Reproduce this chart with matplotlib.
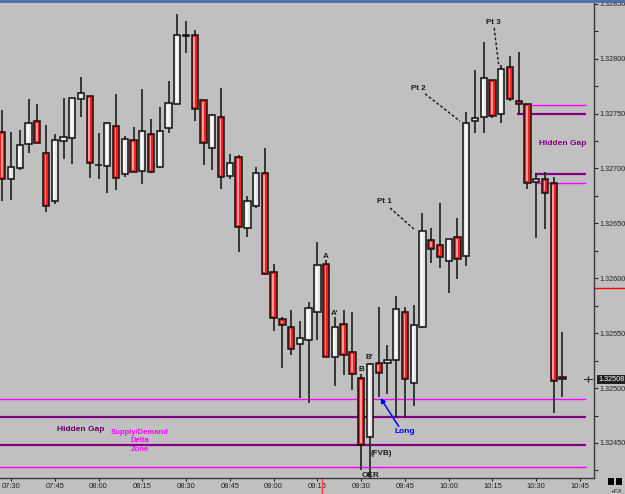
import matplotlib
matplotlib.use("Agg")
import matplotlib.pyplot as plt
from matplotlib.lines import Line2D
from matplotlib.patches import Rectangle
from matplotlib.ticker import MultipleLocator, FixedLocator

plt.rcParams["font.family"] = ["Liberation Sans", "DejaVu Sans"]

# 3-minute EUR bars, first bar is 07:27
times = ["07:30", "07:45", "08:00", "08:15", "08:30", "08:45", "09:00",
         "09:15", "09:30", "09:45", "10:00", "10:15", "10:30", "10:45"]

opens = [1.32733, 1.32690, 1.32700, 1.32722, 1.32743, 1.32714, 1.32670, 1.32725, 1.32728, 1.32763,
         1.32766, 1.32703, 1.32702, 1.32739, 1.32695, 1.32726, 1.32698, 1.32731, 1.32701, 1.32737,
         1.32759, 1.32821, 1.32822, 1.32762, 1.32719, 1.32747, 1.32693, 1.32710, 1.32646, 1.32666,
         1.32696, 1.32606, 1.32563, 1.32556, 1.32540, 1.32544, 1.32569, 1.32613, 1.32528, 1.32558,
         1.32533, 1.32509, 1.32455, 1.32523, 1.32523, 1.32526, 1.32569, 1.32505, 1.32556, 1.32635,
         1.32630, 1.32616, 1.32638, 1.32620, 1.32743, 1.32747, 1.32781, 1.32750, 1.32792, 1.32761,
         1.32759, 1.32688, 1.32690, 1.32687, 1.32510]
highs = [1.32753, 1.32733, 1.32735, 1.32763, 1.32759, 1.32740, 1.32731, 1.32764, 1.32764, 1.32783,
         1.32766, 1.32732, 1.32742, 1.32768, 1.32730, 1.32738, 1.32772, 1.32745, 1.32756, 1.32780,
         1.32841, 1.32834, 1.32826, 1.32762, 1.32750, 1.32773, 1.32713, 1.32712, 1.32675, 1.32701,
         1.32719, 1.32613, 1.32565, 1.32571, 1.32561, 1.32578, 1.32633, 1.32617, 1.32565, 1.32571,
         1.32569, 1.32513, 1.32523, 1.32574, 1.32539, 1.32584, 1.32574, 1.32576, 1.32659, 1.32646,
         1.32669, 1.32636, 1.32655, 1.32751, 1.32790, 1.32815, 1.32781, 1.32794, 1.32802, 1.32806,
         1.32759, 1.32696, 1.32697, 1.32692, 1.32551]
lows = [1.32670, 1.32671, 1.32699, 1.32714, 1.32723, 1.32660, 1.32668, 1.32709, 1.32704, 1.32747,
        1.32691, 1.32690, 1.32678, 1.32680, 1.32692, 1.32697, 1.32686, 1.32696, 1.32701, 1.32732,
        1.32759, 1.32805, 1.32743, 1.32703, 1.32699, 1.32681, 1.32690, 1.32624, 1.32638, 1.32664,
        1.32603, 1.32552, 1.32518, 1.32530, 1.32491, 1.32486, 1.32544, 1.32528, 1.32502, 1.32512,
        1.32498, 1.32425, 1.32418, 1.32492, 1.32495, 1.32474, 1.32474, 1.32484, 1.32555, 1.32614,
        1.32609, 1.32587, 1.32599, 1.32611, 1.32732, 1.32732, 1.32746, 1.32741, 1.32761, 1.32750,
        1.32681, 1.32637, 1.32645, 1.32477, 1.32492]
closes = [1.32690, 1.32701, 1.32721, 1.32741, 1.32723, 1.32666, 1.32726, 1.32729, 1.32764, 1.32769,
          1.32705, 1.32703, 1.32741, 1.32691, 1.32727, 1.32697, 1.32734, 1.32697, 1.32734, 1.32760,
          1.32822, 1.32822, 1.32754, 1.32723, 1.32749, 1.32692, 1.32705, 1.32647, 1.32670, 1.32696,
          1.32604, 1.32564, 1.32557, 1.32536, 1.32546, 1.32573, 1.32612, 1.32528, 1.32556, 1.32530,
          1.32513, 1.32448, 1.32522, 1.32514, 1.32526, 1.32572, 1.32508, 1.32557, 1.32643, 1.32627,
          1.32619, 1.32636, 1.32618, 1.32741, 1.32746, 1.32782, 1.32748, 1.32791, 1.32763, 1.32759,
          1.32687, 1.32690, 1.32678, 1.32506, 1.32508]

last_price = 1.32508
marker_price = 1.32591

# supply/demand zone (bottom) and hidden gap (right)
zone_levels = [1.32490, 1.32474, 1.32448, 1.32428]
zone_colors = ["#FF00FF", "#800080", "#800080", "#FF00FF"]
gap_levels = [1.32758, 1.32750, 1.32695, 1.32687]
gap_colors = ["#FF00FF", "#800080", "#800080", "#FF00FF"]
gap_start = [59.5, 58.8, 60.9, 60.9]

BG = "#C0C0C0"
RED = "#F42020"
RED_HI = "#FF9A9A"
WHITE = "#E4E4E4"
WHITE_HI = "#FAFAFA"
FONT = ["Liberation Sans", "DejaVu Sans"]

fig = plt.figure(figsize=(6.25, 4.94), dpi=100, facecolor=BG)
ax = fig.add_axes([0, 16 / 494, 594 / 625, 476 / 494], facecolor=BG)

n = len(opens)
body_w = 0.72
px = (1.328516 - 1.324181) / 476  # price per pixel
for k in range(n):
    o, h, l, c = opens[k], highs[k], lows[k], closes[k]
    ax.vlines(k, l, h, color="#101010", lw=1.1, zorder=2)
    lo = min(o, c)
    ht = max(abs(c - o), 0.4 * px)
    up = c >= o
    ax.add_patch(Rectangle((k - body_w / 2, lo), body_w, ht,
                           facecolor=WHITE if up else RED, edgecolor="#111111",
                           lw=1.1, zorder=3))
    if ht > 5 * px:
        ax.add_patch(Rectangle((k - 0.16, lo + 2 * px), 0.2, ht - 4 * px,
                               facecolor=WHITE_HI if up else RED_HI,
                               edgecolor="none", zorder=4))

x_end = 66.65
for lvl, col in zip(zone_levels, zone_colors):
    ax.hlines(lvl, -1, x_end, color=col, lw=1.6 if col == "#800080" else 1.0, zorder=1)
for lvl, col, s in zip(gap_levels, gap_colors, gap_start):
    ax.hlines(lvl, s, x_end, color=col, lw=1.6 if col == "#800080" else 1.0, zorder=1)

ax.set_xlim(-0.2566, 67.6)
ax.set_ylim(1.324181, 1.328516)

# axes styling
for side in ("left", "top"):
    ax.spines[side].set_visible(False)
for side in ("right", "bottom"):
    ax.spines[side].set_color("#3A3A3A")
    ax.spines[side].set_linewidth(1.0)

ax.yaxis.tick_right()
ax.yaxis.set_major_locator(MultipleLocator(0.0005))
ax.yaxis.set_minor_locator(MultipleLocator(0.00025))
ax.yaxis.set_major_formatter(lambda v, pos: f"{v:.5f}")
ax.tick_params(axis="y", which="both", direction="out", length=3, width=0.8,
               colors="#202020", labelsize=5.2, pad=1)
ax.xaxis.set_major_locator(FixedLocator([1 + 5 * j for j in range(len(times))]))
ax.set_xticklabels(times)
ax.tick_params(axis="x", direction="out", length=2, width=0.8, colors="#202020",
               labelsize=5.4, pad=1.5)

# price markers on the right axis
ax.plot([1.0, 1.06], [marker_price, marker_price], color="#FF0000", lw=1.0,
        transform=ax.get_yaxis_transform(), clip_on=False)
ax.text(1.007, last_price, f"{last_price:.5f}", transform=ax.get_yaxis_transform(),
        color="white", fontsize=5.2, va="center", ha="left",
        bbox=dict(boxstyle="square,pad=0.15", fc="#202020", ec="none"), zorder=6)
ax.plot([0.984, 0.997], [last_price, last_price], color="#303030", lw=0.8,
        transform=ax.get_yaxis_transform(), clip_on=False)
ax.plot([0.99], [last_price], marker="|", ms=4, color="#303030",
        transform=ax.get_yaxis_transform(), clip_on=False)

# red time marker below the axis
ax.plot([36.5, 36.5], [0, -16 / 476], color="#FF4040", lw=1.0,
        transform=ax.get_xaxis_transform(), clip_on=False)

# annotations
lab = dict(fontsize=5.8, fontweight="bold", color="#1A1A1A", ha="center", va="center",
           family=FONT)
ax.text(43.7, 1.32670, "Pt 1", **lab)
ax.plot([44.3, 47.0], [1.32664, 1.32645], ls=(0, (2, 1.5)), color="#151515", lw=1.0)
ax.text(47.5, 1.32773, "Pt 2", **lab)
ax.plot([48.3, 52.3], [1.32768, 1.32743], ls=(0, (2, 1.5)), color="#151515", lw=1.0)
ax.text(56.1, 1.32833, "Pt 3", **lab)
ax.plot([56.2, 56.7], [1.32828, 1.32795], ls=(0, (2, 1.5)), color="#151515", lw=1.0)

ax.text(37.0, 1.32620, "A", **lab)
ax.text(38.0, 1.32568, "A'", **lab)
ax.text(41.0, 1.32517, "B", **lab)
ax.text(41.9, 1.32528, "B'", **lab)
ax.text(43.3, 1.32440, "(FVB)", **lab)
ax.text(42.1, 1.32420, "OKR", zorder=6, **lab)

ax.text(64.06, 1.32723, "Hidden Gap", fontsize=6, fontweight="bold", color="#800080",
        ha="center", va="center", family=FONT)
ax.text(9.0, 1.32462, "Hidden Gap", fontsize=6, fontweight="bold", color="#600060",
        ha="center", va="center", family=FONT)
ax.text(15.7, 1.32452, "Supply/Demand\nDelta\nZone", fontsize=5.5, fontweight="bold",
        color="#FF00FF", ha="center", va="center", linespacing=1.25, family=FONT)

ax.text(44.8, 1.32460, "Long", fontsize=6, fontweight="bold", color="#0000FF",
        ha="left", va="center", family=FONT)
ax.annotate("", xy=(43.2, 1.32491), xytext=(45.3, 1.32465),
            arrowprops=dict(arrowstyle="-|>", color="#0000FF", lw=1.1,
                            mutation_scale=7, shrinkA=0, shrinkB=0))

# window chrome: top border and corner buttons
fig.add_artist(Line2D([0, 1], [0.998, 0.998], color="#5068B0", lw=2.0))
fig.add_artist(Rectangle((608 / 625, 9 / 494), 6 / 625, 7 / 494, fc="black", ec="none"))
fig.add_artist(Rectangle((616 / 625, 9 / 494), 6 / 625, 7 / 494, fc="black", ec="none"))
fig.text(611 / 625, 3 / 494, "+FX", fontsize=4.5, color="#202020", ha="left", va="center")

fig.savefig("out.png", dpi=100, facecolor=BG)
